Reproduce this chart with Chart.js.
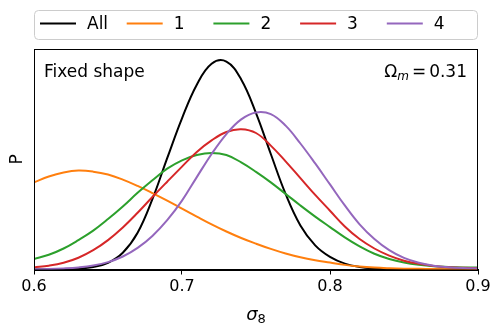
<!DOCTYPE html>
<html>
<head>
<meta charset="utf-8">
<script src="https://cdn.jsdelivr.net/npm/chart.js@4"></script>
<style>
  html, body { margin: 0; padding: 0; background: #fff; }
  #wrap { width: 500px; height: 334px; position: relative; }
</style>
</head>
<body>
<div id="wrap"><canvas id="c" width="500" height="334"></canvas></div>
<script>
// ---- data ----
const sigma8 = [0.60,0.61,0.62,0.63,0.64,0.65,0.66,0.67,0.68,0.69,0.70,0.71,0.72,0.73,0.74,0.75,0.76,0.77,0.78,0.79,0.80,0.81,0.82,0.83,0.84,0.85,0.86,0.87,0.88,0.89,0.90];
const seriesLabels = ["All", "1", "2", "3", "4"];
const seriesColors = ["#000000", "#ff7f0e", "#2ca02c", "#d62728", "#9467bd"];
const pAll = [0.0,0.0,0.001,0.004,0.012,0.032,0.08,0.175,0.335,0.53,0.72,0.88,0.98,0.99,0.905,0.745,0.55,0.36,0.21,0.115,0.06,0.028,0.012,0.005,0.002,0.001,0,0,0,0,0];
const p1 = [0.415,0.443,0.462,0.471,0.466,0.452,0.428,0.398,0.364,0.328,0.290,0.252,0.215,0.181,0.150,0.123,0.098,0.076,0.058,0.044,0.033,0.022,0.014,0.009,0.006,0.004,0.003,0.002,0.001,0.001,0.0];
const p2 = [0.05,0.07,0.10,0.14,0.185,0.24,0.30,0.365,0.425,0.48,0.52,0.545,0.555,0.545,0.51,0.465,0.415,0.36,0.305,0.252,0.202,0.153,0.11,0.075,0.05,0.033,0.022,0.015,0.012,0.01,0.009];
const p3 = [0.010,0.018,0.032,0.056,0.092,0.14,0.20,0.27,0.345,0.418,0.49,0.56,0.615,0.655,0.668,0.65,0.59,0.515,0.435,0.355,0.28,0.205,0.145,0.10,0.066,0.042,0.027,0.017,0.011,0.008,0.006];
const p4 = [0.001,0.002,0.005,0.01,0.019,0.035,0.062,0.103,0.16,0.235,0.328,0.44,0.55,0.645,0.715,0.748,0.74,0.685,0.60,0.505,0.405,0.305,0.215,0.145,0.092,0.055,0.032,0.018,0.011,0.007,0.005];
const xTicks = [0.6, 0.7, 0.8, 0.9];
const xRange = [0.6, 0.9];
const yRange = [0, 1.05];
const leftNote = "Fixed shape";
const rightNoteSym = "Ω";
const rightNoteSub = "m";
const rightNoteVal = "0.31";
const xLabelSym = "σ";
const xLabelSub = "8";
const yLabel = "P";

const seriesValues = [pAll, p1, p2, p3, p4];
const FONT = "'DejaVu Sans', sans-serif";

const datasets = seriesValues.map((vals, i) => ({
  label: seriesLabels[i],
  data: sigma8.map((x, k) => ({ x: x, y: vals[k] })),
  borderColor: seriesColors[i],
  backgroundColor: seriesColors[i],
  borderWidth: 2,
  pointRadius: 0,
  fill: false,
  tension: 0.4,
  order: seriesValues.length - 1 - i
}));

const decor = {
  id: 'decor',
  afterDraw(chart) {
    const ctx = chart.ctx;
    const a = chart.chartArea;
    ctx.save();
    // frame
    ctx.strokeStyle = '#000';
    ctx.lineWidth = 1;
    ctx.strokeRect(Math.round(a.left) + 0.5, Math.round(a.top) + 0.5,
                   Math.round(a.right - a.left) - 1, Math.round(a.bottom - a.top));

    // annotations
    ctx.fillStyle = '#000';
    ctx.textBaseline = 'alphabetic';
    ctx.font = "17px " + FONT;
    ctx.textAlign = 'left';
    ctx.fillText(leftNote, a.left + 10, a.top + 28);

    // Omega_m = 0.31 right aligned
    const fBig = "17px " + FONT;
    const fSub = "italic 12px " + FONT;
    ctx.font = fBig; const wO = ctx.measureText(rightNoteSym).width;
    ctx.font = fSub; const wm = ctx.measureText(rightNoteSub).width;
    ctx.font = fBig; const weq = ctx.measureText("=").width;
    const wv = ctx.measureText(rightNoteVal).width;
    const gap = 3;
    const total = wO + wm + gap + weq + gap + wv;
    let x = a.right - 11 - total;
    const by = a.top + 28;
    ctx.font = fBig; ctx.fillText(rightNoteSym, x, by); x += wO;
    ctx.font = fSub; ctx.fillText(rightNoteSub, x, by + 3); x += wm + gap;
    ctx.font = fBig; ctx.fillText("=", x, by); x += weq + gap;
    ctx.fillText(rightNoteVal, x, by);

    // x label sigma_8
    const fSig = "italic 18px " + FONT;
    const fS8 = "13px " + FONT;
    ctx.font = fSig; const ws = ctx.measureText(xLabelSym).width;
    ctx.font = fS8; const w8 = ctx.measureText(xLabelSub).width;
    const cx = (a.left + a.right) / 2;
    let lx = cx - (ws + w8) / 2;
    const lby = 320;
    ctx.font = fSig; ctx.fillText(xLabelSym, lx, lby);
    ctx.font = fS8; ctx.fillText(xLabelSub, lx + ws, lby + 3);

    // y label
    ctx.save();
    ctx.translate(18, (a.top + a.bottom) / 2);
    ctx.rotate(-Math.PI / 2);
    ctx.font = "17px " + FONT;
    ctx.textAlign = 'center';
    ctx.textBaseline = 'middle';
    ctx.fillText(yLabel, 0, 0);
    ctx.restore();

    // legend
    const lx0 = a.left, lx1 = a.right, ly0 = 10, ly1 = 39;
    ctx.beginPath();
    if (ctx.roundRect) ctx.roundRect(lx0 + 0.5, ly0 + 0.5, lx1 - lx0 - 1, ly1 - ly0, 4);
    else ctx.rect(lx0 + 0.5, ly0 + 0.5, lx1 - lx0 - 1, ly1 - ly0);
    ctx.fillStyle = 'rgba(255,255,255,0.8)';
    ctx.fill();
    ctx.strokeStyle = '#cccccc';
    ctx.lineWidth = 1;
    ctx.stroke();
    const n = chart.data.datasets.length;
    const step = (lx1 - lx0 - 12) / n + 0.3;
    const ly = 23.5;
    ctx.font = "17px " + FONT;
    ctx.textAlign = 'left';
    ctx.textBaseline = 'middle';
    chart.data.datasets.forEach((ds, i) => {
      const sx = lx0 + 6 + i * step;
      ctx.strokeStyle = ds.borderColor;
      ctx.lineWidth = 2;
      ctx.beginPath();
      ctx.moveTo(sx, ly);
      ctx.lineTo(sx + 36, ly);
      ctx.stroke();
      ctx.fillStyle = '#000';
      ctx.fillText(ds.label, sx + 47, ly + 1);
    });
    ctx.restore();
  }
};

new Chart(document.getElementById('c'), {
  type: 'line',
  data: { datasets },
  options: {
    responsive: false,
    animation: false,
    devicePixelRatio: 1,
    layout: { padding: { left: 0, right: 22, top: 49, bottom: 0 } },
    plugins: { legend: { display: false }, tooltip: { enabled: false } },
    scales: {
      x: {
        type: 'linear',
        min: xRange[0], max: xRange[1],
        afterFit: s => { s.height = 64.5; },
        afterBuildTicks: s => { s.ticks = xTicks.map(v => ({ value: v })); },
        grid: { display: true, drawOnChartArea: false, drawTicks: true, tickLength: 5, color: '#000', tickWidth: 1 },
        border: { display: true, color: '#000', width: 1 },
        ticks: {
          color: '#000', padding: 3, maxRotation: 0,
          font: { family: "'DejaVu Sans', sans-serif", size: 16 },
          callback: v => Number(v).toFixed(1)
        }
      },
      y: {
        type: 'linear',
        min: yRange[0], max: yRange[1],
        afterFit: s => { s.width = 34; },
        ticks: { display: false },
        grid: { display: false, drawTicks: false },
        border: { display: true, color: '#000', width: 1 }
      }
    }
  },
  plugins: [decor]
});
</script>
</body>
</html>
